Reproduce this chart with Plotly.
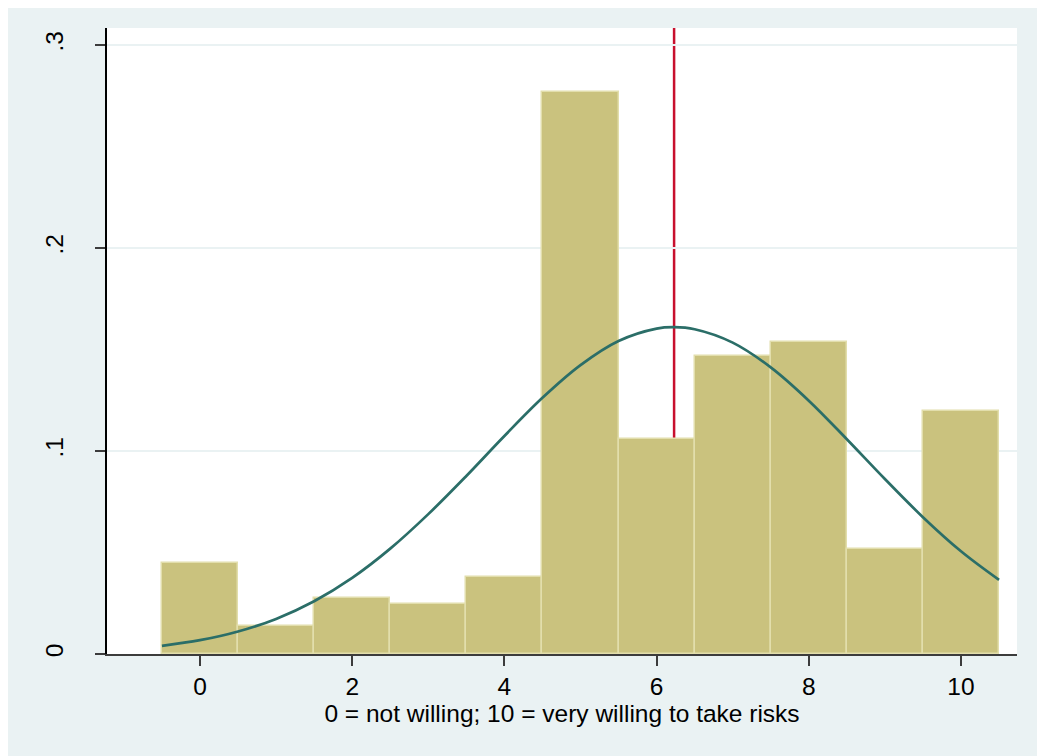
import plotly.graph_objects as go

# Histogram bins (centers) and density heights
bin_centers = [0, 1, 2, 3, 4, 5, 6, 7, 8, 9, 10]
densities = [0.0448, 0.0138, 0.0276, 0.0246, 0.0379, 0.2768, 0.1059, 0.1468, 0.1537, 0.0517, 0.1197]

# Normal density overlay
curve_x = [-0.5, 0, 0.5, 1, 1.5, 2, 2.5, 3, 3.5, 4, 4.5, 5, 5.5, 6, 6.23, 6.5, 7, 7.5, 8, 8.5, 9, 9.5, 10, 10.5]
curve_y = [0.0040, 0.0068, 0.0111, 0.0173, 0.0260, 0.0375, 0.0519, 0.0689, 0.0877, 0.1074, 0.1262, 0.1423,
           0.1542, 0.1603, 0.1610, 0.1600, 0.1534, 0.1412, 0.1248, 0.1058, 0.0862, 0.0674, 0.0506, 0.0365]

mean_value = 6.23

x_ticks = [0, 2, 4, 6, 8, 10]
y_ticks = [0, 0.1, 0.2, 0.3]
y_ticklabels = ["0", ".1", ".2", ".3"]

x_title = "0 = not willing; 10 = very willing to take risks"

BG = "rgb(234,242,243)"
font = "Liberation Sans, Arial, sans-serif"
FS = 24.5

fig = go.Figure()
fig.add_trace(go.Bar(
    x=bin_centers, y=densities, width=1,
    marker=dict(color="rgb(202,194,126)", line=dict(color="rgb(226,222,172)", width=1.5)),
    hoverinfo="skip", showlegend=False,
))
fig.add_trace(go.Scatter(
    x=curve_x, y=curve_y, mode="lines",
    line=dict(color="rgb(43,110,104)", width=2.7, shape="spline"),
    hoverinfo="skip", showlegend=False,
))
fig.add_shape(type="line", xref="x", yref="paper", x0=mean_value, x1=mean_value, y0=0, y1=1,
              line=dict(color="rgb(200,16,46)", width=2.5), layer="between")

fig.update_layout(
    width=1037, height=748,
    paper_bgcolor=BG, plot_bgcolor="white",
    margin=dict(l=99, r=28, t=20, b=102),
    bargap=0,
    font=dict(family=font, size=FS, color="black"),
    xaxis=dict(
        range=[-1.222, 10.736], tickvals=x_ticks, ticks="outside", ticklen=10, tickwidth=1.5,
        tickcolor="rgb(60,60,60)", showgrid=False, zeroline=False,
        showline=True, linecolor="rgb(60,60,60)", linewidth=1.5, ticklabelstandoff=0,
        tickfont=dict(size=FS), title=dict(text=x_title, font=dict(size=FS), standoff=1),
    ),
    yaxis=dict(
        range=[0, 0.3084], tickvals=y_ticks, ticktext=y_ticklabels, ticks="outside", ticklen=10,
        tickwidth=1.5, tickcolor="rgb(60,60,60)", tickangle=-90, ticklabelstandoff=22,
        showgrid=True, gridcolor=BG, gridwidth=2, zeroline=False,
        showline=True, linecolor="black", linewidth=1.5, tickfont=dict(size=FS),
    ),
)

fig.write_html("out.html")
